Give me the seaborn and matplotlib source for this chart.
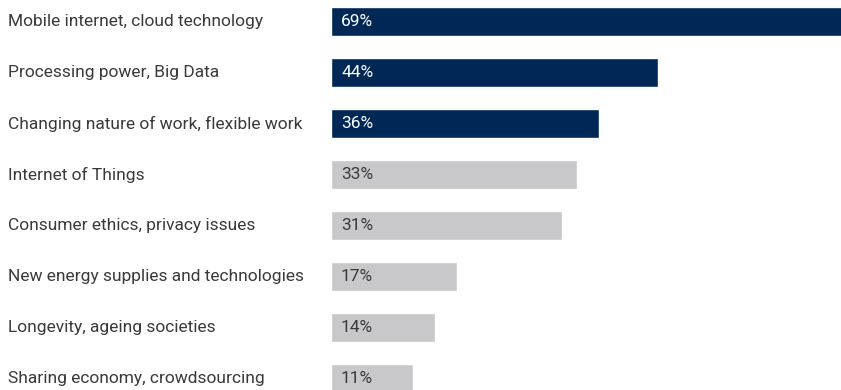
import pandas as pd
import seaborn as sns
import matplotlib.pyplot as plt

## chart data
trends = [
    "Mobile internet, cloud technology",
    "Processing power, Big Data",
    "Changing nature of work, flexible work",
    "Internet of Things",
    "Consumer ethics, privacy issues",
    "New energy supplies and technologies",
    "Longevity, ageing societies",
    "Sharing economy, crowdsourcing",
]
share = [69, 44, 36, 33, 31, 17, 14, 11]
highlight = ["top", "top", "top", "other", "other", "other", "other", "other"]

df = pd.DataFrame({"trend": trends, "share": share, "group": highlight})

navy = "#002856"
grey = "#c8c8ca"
text_grey = "#3a3a3a"

sns.set_theme(style="white")
plt.rcParams["font.family"] = ["Roboto", "DejaVu Sans"]

fig = plt.figure(figsize=(8.41, 3.9), dpi=100)
ax = fig.add_axes([331 / 841, 0, 1 - 331 / 841, 1])

sns.barplot(
    data=df,
    x="share",
    y="trend",
    hue="group",
    palette={"top": navy, "other": grey},
    saturation=1,
    order=trends,
    width=0.57,
    dodge=False,
    legend=False,
    ax=ax,
)

ax.set_xlim(0, 510 / 7.44)
ax.set_ylim(7.225, -0.422)
ax.axis("off")

## labels on the left, values inside bars
for i, row in df.iterrows():
    fig.text(8 / 841, 1 - (21.5 + 51 * i) / 390, row["trend"],
             ha="left", va="center", fontsize=12.5, color=text_grey)
    ax.text(1.35, i, f"{row['share']}%", ha="left", va="center", fontsize=12.5,
            color="white" if row["group"] == "top" else text_grey)

plt.savefig("out.png", dpi=100)
